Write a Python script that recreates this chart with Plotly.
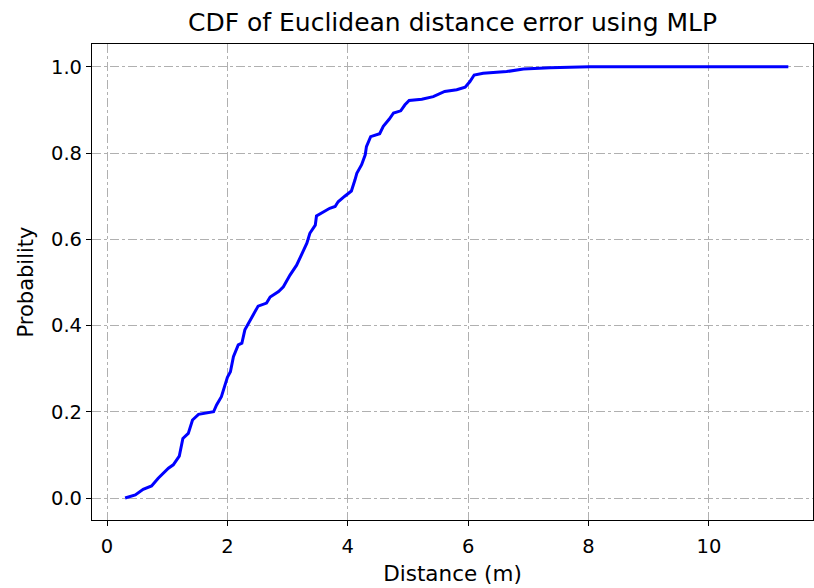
import plotly.graph_objects as go

# Empirical CDF of the localisation error (metres) for the MLP model
distance_m = [0.30, 0.47, 0.60, 0.74, 0.85, 1.02, 1.10, 1.20, 1.26, 1.35,
              1.42, 1.52, 1.77, 1.82, 1.90, 1.96, 2.00, 2.05, 2.10, 2.18,
              2.24, 2.29, 2.38, 2.51, 2.65, 2.71, 2.85, 2.93, 3.04, 3.15,
              3.23, 3.32, 3.37, 3.46, 3.48, 3.59, 3.70, 3.79, 3.84, 3.95,
              4.06, 4.12, 4.15, 4.23, 4.29, 4.31, 4.38, 4.53, 4.59, 4.69,
              4.76, 4.88, 4.95, 5.02, 5.23, 5.42, 5.61, 5.81, 5.95, 6.03,
              6.10, 6.25, 6.64, 6.92, 7.36, 8.02, 11.32]
probability = [0.000, 0.007, 0.020, 0.028, 0.046, 0.069, 0.077, 0.097, 0.138, 0.150,
               0.181, 0.194, 0.200, 0.216, 0.235, 0.262, 0.280, 0.293, 0.328, 0.355,
               0.359, 0.390, 0.413, 0.445, 0.452, 0.466, 0.479, 0.490, 0.517, 0.540,
               0.564, 0.591, 0.614, 0.633, 0.654, 0.664, 0.672, 0.676, 0.687, 0.700,
               0.712, 0.738, 0.753, 0.773, 0.796, 0.815, 0.838, 0.845, 0.862, 0.879,
               0.893, 0.898, 0.912, 0.922, 0.925, 0.931, 0.943, 0.947, 0.953, 0.966,
               0.981, 0.985, 0.989, 0.995, 0.998, 1.000, 1.000]

x_ticks = [0, 2, 4, 6, 8, 10]
y_ticks = [0.0, 0.2, 0.4, 0.6, 0.8, 1.0]

FONT = "DejaVu Sans"

fig = go.Figure()
fig.add_trace(go.Scatter(
    x=distance_m, y=probability, mode="lines",
    line=dict(color="#0000ff", width=3),
    showlegend=False,
))

axis_common = dict(
    showline=True, linecolor="black", linewidth=1.2, mirror=True,
    ticks="outside", ticklen=5, tickwidth=1.2, tickcolor="black",
    showgrid=True, gridcolor="#b0b0b0", gridwidth=1.2, griddash="dashdot",
    zeroline=False,
    tickfont=dict(family=FONT, size=19.5, color="black"),
)

fig.update_layout(
    width=814, height=588,
    margin=dict(l=92, r=1, t=44, b=68),
    paper_bgcolor="white", plot_bgcolor="white",
    title=dict(text="CDF of Euclidean distance error using MLP",
               x=(92 + 813) / 2 / 814, xanchor="center",
               y=1 - 22 / 588, yanchor="middle",
               font=dict(family=FONT, size=25, color="black")),
    xaxis=dict(range=[-0.25, 11.73], tickvals=x_ticks,
               ticktext=[str(v) for v in x_ticks],
               ticklabelstandoff=3,
               title=dict(text="Distance (m)", standoff=9,
                          font=dict(family=FONT, size=21.5, color="black")),
               **axis_common),
    yaxis=dict(range=[-0.051, 1.053], tickvals=y_ticks,
               ticktext=[f"{v:.1f}" for v in y_ticks],
               title=dict(text="Probability", standoff=11,
                          font=dict(family=FONT, size=21, color="black")),
               **axis_common),
)

fig.write_html("out.html")
